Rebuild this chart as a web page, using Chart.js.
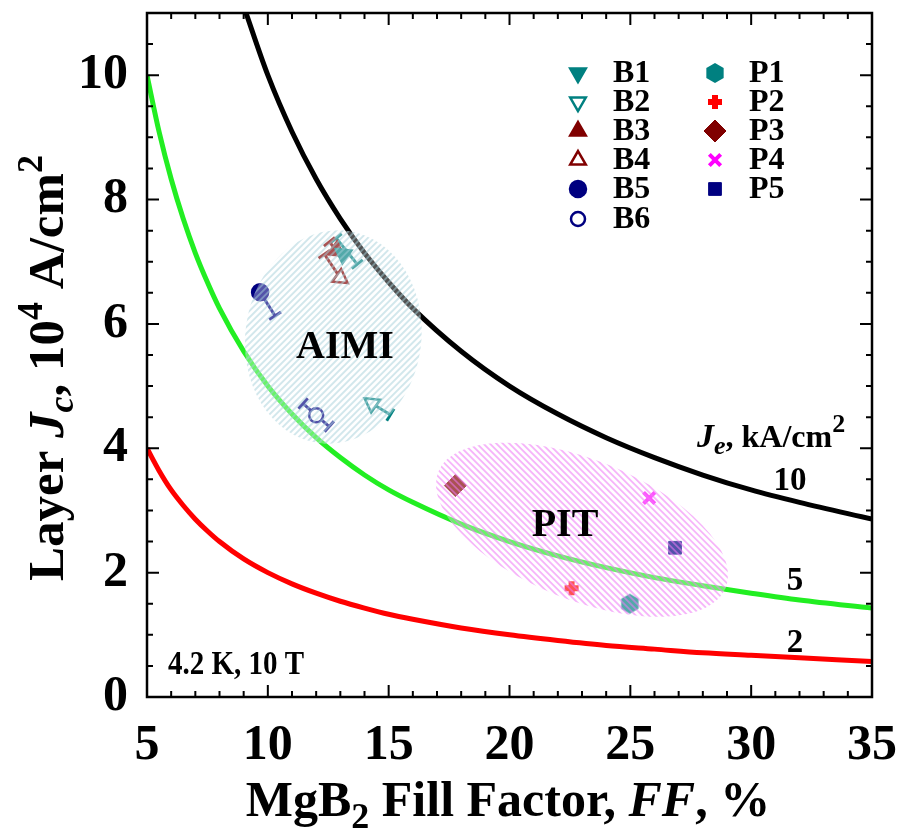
<!DOCTYPE html>
<html>
<head>
    <title>Layer Jc vs fill factor</title>
    <script src="https://cdn.jsdelivr.net/npm/chart.js@4.4.0/dist/chart.umd.min.js"></script>
    <style>
        body { margin: 0; background: #fff; }
        #wrap { width: 897px; height: 829px; }
    </style>
</head>
<body>
    <div id="wrap"><canvas id="jcChart" width="897" height="829"></canvas></div>

    <script>
        // Je curves (Jc of the layer, 10^4 A/cm2)
        const curveFF = [5, 5.5, 6, 6.5, 7, 7.5, 8, 9, 10, 11, 12, 13, 14, 15, 16, 18, 20, 22, 24, 26, 28, 30, 32, 35];
        const je10Jc = [null, null, null, null, null, null, null, 11.11, 10, 9.09, 8.33, 7.69, 7.14, 6.67, 6.25, 5.56, 5, 4.55, 4.17, 3.85, 3.57, 3.33, 3.13, 2.86];
        const je5Jc = [10, 9.09, 8.33, 7.69, 7.14, 6.67, 6.25, 5.56, 5, 4.55, 4.17, 3.85, 3.57, 3.33, 3.13, 2.78, 2.5, 2.27, 2.08, 1.92, 1.79, 1.67, 1.56, 1.43];
        const je2Jc = [4, 3.64, 3.33, 3.08, 2.86, 2.67, 2.5, 2.22, 2, 1.82, 1.67, 1.54, 1.43, 1.33, 1.25, 1.11, 1, 0.91, 0.83, 0.77, 0.71, 0.67, 0.63, 0.57];

        // AIMI wires
        const aimiNames = ['B1', 'B2', 'B3', 'B4', 'B5', 'B6'];
        const aimiFF = [13.12, 14.31, 12.83, 13.0, 9.68, 12.0];
        const aimiJc = [7.12, 4.72, 7.18, 6.74, 6.51, 4.53];
        const aimiErrFromFF = [12.83, 14.31, 12.55, 12.34, 9.68, 11.46];
        const aimiErrFromJc = [7.38, 4.72, 7.32, 7.12, 6.51, 4.72];
        const aimiErrToFF = [13.70, 15.07, 12.83, 13.0, 10.3, 12.54];
        const aimiErrToJc = [6.96, 4.54, 7.18, 6.74, 6.13, 4.35];

        // PIT wires
        const pitNames = ['P1', 'P2', 'P3', 'P4', 'P5'];
        const pitFF = [24.98, 22.57, 17.76, 25.78, 26.85];
        const pitJc = [1.50, 1.75, 3.40, 3.20, 2.40];

        const xTicks = [5, 10, 15, 20, 25, 30, 35];
        const yTicks = [0, 2, 4, 6, 8, 10];

        const TEAL = '#008080', DRED = '#800000', NAVY = '#000080';
        const SERIF = '"Liberation Serif", "DejaVu Serif", serif';

        function hexagonImage(color, r) {
            const c = document.createElement('canvas');
            c.width = c.height = Math.ceil(r * 2 + 2);
            const g = c.getContext('2d');
            g.fillStyle = color;
            g.beginPath();
            for (let i = 0; i < 6; i++) {
                const a = Math.PI / 3 * i - Math.PI / 2;
                const px = c.width / 2 + r * Math.cos(a), py = c.height / 2 + r * Math.sin(a);
                if (i === 0) g.moveTo(px, py); else g.lineTo(px, py);
            }
            g.closePath();
            g.fill();
            return c;
        }
        const hexMark = hexagonImage(TEAL, 10);

        // marker styles per series (B1..B6, P1..P5)
        const aimiStyle = [
            { pointStyle: 'triangle', rotation: 180, bg: TEAL, fg: TEAL, r: 9, plotRot: 305 },
            { pointStyle: 'triangle', rotation: 180, bg: '#fff', fg: TEAL, r: 9, plotRot: 305 },
            { pointStyle: 'triangle', rotation: 0, bg: DRED, fg: DRED, r: 9, plotRot: 125 },
            { pointStyle: 'triangle', rotation: 0, bg: '#fff', fg: DRED, r: 9, plotRot: 125 },
            { pointStyle: 'circle', rotation: 0, bg: NAVY, fg: NAVY, r: 8, plotRot: 0 },
            { pointStyle: 'circle', rotation: 0, bg: '#fff', fg: NAVY, r: 7, plotRot: 0 }
        ];
        const pitStyle = [
            { pointStyle: hexMark, bg: TEAL, fg: TEAL, r: 10, bw: 1 },
            { pointStyle: 'cross', bg: '#ff0000', fg: '#ff0000', r: 7, bw: 6 },
            { pointStyle: 'rectRot', bg: DRED, fg: DRED, r: 11, bw: 1 },
            { pointStyle: 'crossRot', bg: '#ff00ff', fg: '#ff00ff', r: 8, bw: 4 },
            { pointStyle: 'rect', bg: NAVY, fg: NAVY, r: 9, bw: 1 }
        ];

        // hatched regions (centre in data units)
        const regions = [
            { ff: 12.71, jc: 5.79, rx: 88, ry: 107, rot: 8, stripe: 'rgba(165,208,218,0.5)', dir: 1 },
            { ff: 23.0, jc: 2.69, rx: 155, ry: 70, rot: 22, stripe: 'rgba(238,120,245,0.55)', dir: -1 }
        ];

        function runs(ctx, list, x, y, align) {
            ctx.textAlign = 'left';
            let w = 0;
            list.forEach(function(r) { ctx.font = r[1]; w += ctx.measureText(r[0]).width; });
            let cx = align === 'center' ? x - w / 2 : (align === 'right' ? x - w : x);
            list.forEach(function(r) {
                ctx.font = r[1];
                ctx.fillText(r[0], cx, y + (r[2] || 0));
                cx += ctx.measureText(r[0]).width;
            });
        }

        const decorPlugin = {
            id: 'decor',
            beforeDatasetsDraw: function(chart) {
                // diagonal error bars with perpendicular caps
                const ctx = chart.ctx, xs = chart.scales.x, ys = chart.scales.y;
                ctx.save();
                ctx.lineWidth = 3;
                for (let i = 0; i < aimiNames.length; i++) {
                    const x1 = xs.getPixelForValue(aimiErrFromFF[i]), y1 = ys.getPixelForValue(aimiErrFromJc[i]);
                    const x2 = xs.getPixelForValue(aimiErrToFF[i]), y2 = ys.getPixelForValue(aimiErrToJc[i]);
                    const mx = xs.getPixelForValue(aimiFF[i]), my = ys.getPixelForValue(aimiJc[i]);
                    ctx.strokeStyle = aimiStyle[i].fg;
                    ctx.beginPath(); ctx.moveTo(x1, y1); ctx.lineTo(x2, y2); ctx.stroke();
                    const len = Math.hypot(x2 - x1, y2 - y1) || 1;
                    const nx = -(y2 - y1) / len * 7, ny = (x2 - x1) / len * 7;
                    [[x1, y1], [x2, y2]].forEach(function(p) {
                        if (Math.hypot(p[0] - mx, p[1] - my) < 2) return;
                        ctx.beginPath(); ctx.moveTo(p[0] - nx, p[1] - ny); ctx.lineTo(p[0] + nx, p[1] + ny); ctx.stroke();
                    });
                }
                ctx.restore();
            },
            afterDatasetsDraw: function(chart) {
                const ctx = chart.ctx, xs = chart.scales.x, ys = chart.scales.y;
                regions.forEach(function(r) {
                    const cx = xs.getPixelForValue(r.ff), cy = ys.getPixelForValue(r.jc);
                    ctx.save();
                    ctx.translate(cx, cy);
                    ctx.rotate(r.rot * Math.PI / 180);
                    ctx.beginPath();
                    ctx.ellipse(0, 0, r.rx, r.ry, 0, 0, Math.PI * 2);
                    ctx.rotate(-r.rot * Math.PI / 180);
                    ctx.clip();
                    ctx.fillStyle = 'rgba(255,255,255,0.32)';
                    ctx.fillRect(-250, -250, 500, 500);
                    ctx.strokeStyle = r.stripe;
                    ctx.lineWidth = 1.9;
                    for (let k = -500; k < 500; k += 6.5) {
                        ctx.beginPath();
                        ctx.moveTo(k - 250, 250 * r.dir);
                        ctx.lineTo(k + 250, -250 * r.dir);
                        ctx.stroke();
                    }
                    ctx.restore();
                });
                ctx.save();
                ctx.fillStyle = '#000';
                ctx.textAlign = 'center';
                ctx.textBaseline = 'middle';
                ctx.font = 'bold 40px ' + SERIF;
                ctx.fillText('AIMI', 345, 348);
                ctx.fillText('PIT', 565, 526);
                ctx.restore();
            },
            afterDraw: function(chart) {
                const ctx = chart.ctx, xs = chart.scales.x, ys = chart.scales.y, a = chart.chartArea;
                ctx.save();
                // frame and inward ticks
                ctx.strokeStyle = '#000';
                ctx.lineWidth = 2.5;
                ctx.strokeRect(a.left, a.top, a.right - a.left, a.bottom - a.top);
                ctx.lineWidth = 2;
                for (let v = xs.min; v <= xs.max + 0.001; v += 1) {
                    const px = xs.getPixelForValue(v), L = (v % 5 === 0) ? 12 : 6;
                    ctx.beginPath();
                    ctx.moveTo(px, a.bottom); ctx.lineTo(px, a.bottom - L);
                    ctx.moveTo(px, a.top); ctx.lineTo(px, a.top + L);
                    ctx.stroke();
                }
                for (let v = ys.min; v <= ys.max + 0.001; v += 0.5) {
                    const py = ys.getPixelForValue(v), L = (v % 2 === 0) ? 12 : 6;
                    ctx.beginPath();
                    ctx.moveTo(a.left, py); ctx.lineTo(a.left + L, py);
                    ctx.moveTo(a.right, py); ctx.lineTo(a.right - L, py);
                    ctx.stroke();
                }
                // tick labels
                ctx.fillStyle = '#000';
                ctx.font = 'bold 50px ' + SERIF;
                ctx.textBaseline = 'middle';
                ctx.textAlign = 'center';
                xs.ticks.forEach(function(t) { ctx.fillText(String(t.value), xs.getPixelForValue(t.value), 746); });
                ctx.textAlign = 'right';
                ys.ticks.forEach(function(t) { ctx.fillText(String(t.value), 128, ys.getPixelForValue(t.value)); });

                // axis titles
                ctx.textBaseline = 'alphabetic';
                const B = function(s) { return 'bold ' + s + 'px ' + SERIF; };
                const IB = function(s) { return 'italic bold ' + s + 'px ' + SERIF; };
                runs(ctx, [['MgB', B(50)], ['2', B(36), 12], [' Fill Factor, ', B(50)], ['FF', IB(50)], [', %', B(50)]], 508, 816, 'center');
                ctx.save();
                ctx.translate(63, 368);
                ctx.rotate(-Math.PI / 2);
                runs(ctx, [['Layer ', B(51)], ['J', IB(51)], ['c', IB(36), 10], [', 10', B(51)], ['4', B(36), -21], [' A/cm', B(51)], ['2', B(36), -21]], 0, 0, 'center');
                ctx.restore();

                // annotations
                runs(ctx, [['J', IB(34)], ['e', IB(26), 7], [', kA/cm', B(32)], ['2', B(26), -15]], 697, 447, 'left');
                ctx.font = B(33);
                ctx.textAlign = 'center';
                ctx.fillText('10', 790, 490);
                ctx.fillText('5', 795, 590);
                ctx.fillText('2', 795, 652);
                ctx.save();
                ctx.translate(168, 674);
                ctx.scale(1, 1.15);
                ctx.textAlign = 'left';
                ctx.font = B(29);
                ctx.fillText('4.2 K, 10 T', 0, 0);
                ctx.restore();

                // legend
                const draw = Chart.helpers && Chart.helpers.drawPoint;
                const rowY = [73, 102, 131, 160, 189, 219];
                ctx.font = B(32);
                ctx.textBaseline = 'middle';
                ctx.textAlign = 'left';
                aimiNames.forEach(function(n, i) {
                    const s = aimiStyle[i];
                    ctx.fillStyle = s.bg; ctx.strokeStyle = s.fg; ctx.lineWidth = 2.5;
                    if (draw) draw(ctx, { pointStyle: s.pointStyle, radius: s.r, rotation: s.rotation, borderWidth: 2.5 }, 578, rowY[i]);
                    ctx.fillStyle = '#000';
                    ctx.fillText(n, 613, rowY[i] + 1);
                });
                pitNames.forEach(function(n, i) {
                    const s = pitStyle[i];
                    ctx.fillStyle = s.bg; ctx.strokeStyle = s.fg; ctx.lineWidth = s.bw;
                    if (draw) draw(ctx, { pointStyle: s.pointStyle, radius: s.r, rotation: 0, borderWidth: s.bw }, 715, rowY[i]);
                    ctx.fillStyle = '#000';
                    ctx.fillText(n, 749, rowY[i] + 1);
                });
                ctx.restore();
            }
        };

        function curve(values, color) {
            return {
                type: 'line',
                data: curveFF.map(function(f, i) { return { x: f, y: values[i] }; }),
                borderColor: color,
                borderWidth: 5,
                pointRadius: 0,
                cubicInterpolationMode: 'monotone',
                spanGaps: false
            };
        }

        const datasets = [
            curve(je10Jc, '#000000'),
            curve(je5Jc, '#22ee22'),
            curve(je2Jc, '#ff0000')
        ];
        aimiNames.forEach(function(n, i) {
            const s = aimiStyle[i];
            datasets.push({
                type: 'scatter', label: n,
                data: [{ x: aimiFF[i], y: aimiJc[i] }],
                pointStyle: s.pointStyle, rotation: s.plotRot, radius: s.r,
                backgroundColor: s.bg, borderColor: s.fg, borderWidth: 2.5
            });
        });
        pitNames.forEach(function(n, i) {
            const s = pitStyle[i];
            datasets.push({
                type: 'scatter', label: n,
                data: [{ x: pitFF[i], y: pitJc[i] }],
                pointStyle: s.pointStyle, radius: s.r,
                backgroundColor: s.bg, borderColor: s.fg, borderWidth: s.bw
            });
        });

        new Chart(document.getElementById('jcChart'), {
            type: 'scatter',
            data: { datasets: datasets },
            options: {
                responsive: false,
                animation: false,
                layout: { padding: { top: 8, right: 25, left: 0, bottom: 0 } },
                plugins: { legend: { display: false }, tooltip: { enabled: false } },
                scales: {
                    x: {
                        type: 'linear', min: 5, max: 35,
                        grid: { display: false, drawTicks: false },
                        border: { display: false },
                        ticks: { display: false },
                        afterBuildTicks: function(s) { s.ticks = xTicks.map(function(v) { return { value: v }; }); },
                        afterFit: function(s) { s.height = 132; }
                    },
                    y: {
                        type: 'linear', min: 0, max: 11,
                        grid: { display: false, drawTicks: false },
                        border: { display: false },
                        ticks: { display: false },
                        afterBuildTicks: function(s) { s.ticks = yTicks.map(function(v) { return { value: v }; }); },
                        afterFit: function(s) { s.width = 147; }
                    }
                }
            },
            plugins: [decorPlugin]
        });
    </script>
</body>
</html>
